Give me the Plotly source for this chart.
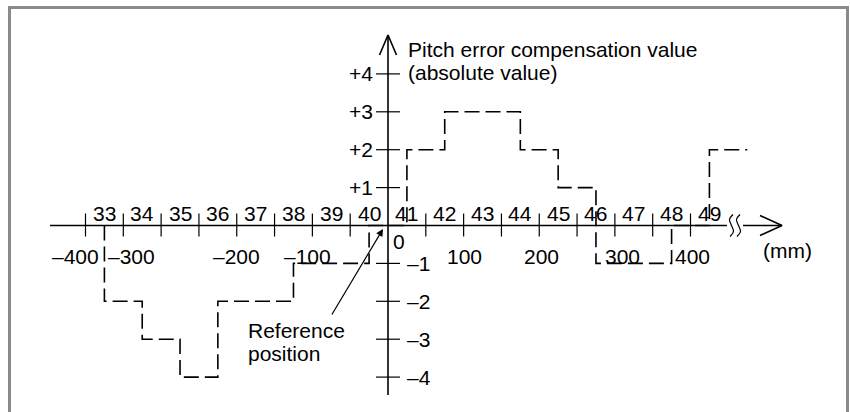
import plotly.graph_objects as go

# ---------------- data ----------------
point_numbers = list(range(33, 50))
point_pos_mm = [-375, -325, -275, -225, -175, -125, -75, -25, 25, 75, 125, 175, 225, 275, 325, 375, 425]
comp_values = [-2, -3, -4, -2, -2, -1, -1, 0, 2, 3, 3, 2, 1, -1, -1, 0, 2]
end_mm = 475

x_tick_mm = [-400, -350, -300, -250, -200, -150, -100, -50, 50, 100, 150, 200, 250, 300, 350, 400]
mm_label_vals = [-400, -300, -200, -100, 100, 200, 300, 400]
mm_label_text = ["\u2013400", "\u2013300", "\u2013200", "\u2013100", "100", "200", "300", "400"]
y_tick_vals = [-4, -3, -2, -1, 1, 2, 3, 4]
y_tick_text = ["\u20134", "\u20133", "\u20132", "\u20131", "+1", "+2", "+3", "+4"]

# ---------------- geometry (pixel scale) ----------------
W, H = 850, 412
X0PX, PXMM = 388.0, 0.75625      # px of 0 mm, px per mm
Y0PX, PXV = 225.5, 37.9           # px of value 0, px per unit
XR = [(0 - X0PX) / PXMM, (W - X0PX) / PXMM]
YR = [(Y0PX - H) / PXV, (Y0PX - 0) / PXV]


def dx(px):
    return px / PXMM


def dy(px):
    return px / PXV


FONT = dict(family="Liberation Sans, Arial, sans-serif", size=21, color="black")
fig = go.Figure()

# staircase (compensation values)
fig.add_trace(go.Scatter(
    x=[point_pos_mm[0]] + point_pos_mm + [end_mm],
    y=[0] + comp_values + [comp_values[-1]],
    mode="lines", line=dict(color="black", width=1.6, dash="15px,6px", shape="hv"),
    hoverinfo="skip"))

# horizontal axis with break and arrow
ax_l, ax_brk1, ax_brk2, ax_r = dx(50 - X0PX), dx(727 - X0PX), dx(743 - X0PX), dx(782 - X0PX)
fig.add_trace(go.Scatter(
    x=[ax_l, ax_brk1, None, ax_brk2, ax_r, None,
       ax_r - dx(22), ax_r, ax_r - dx(22)],
    y=[0, 0, None, 0, 0, None, dy(10), 0, -dy(10)],
    mode="lines", line=dict(color="black", width=1.6), hoverinfo="skip"))

# break squiggles
for off in (-3.5, 3.5):
    bx = (ax_brk1 + ax_brk2) / 2 + dx(off)
    fig.add_trace(go.Scatter(
        x=[bx + dx(1.5), bx - dx(2), bx, bx + dx(2), bx - dx(1.5)],
        y=[dy(11), dy(6), 0, -dy(6), -dy(11)],
        mode="lines", line=dict(color="black", width=1.2, shape="spline"), hoverinfo="skip"))

# vertical axis with arrow
v_bot, v_top = -dy(395 - Y0PX), dy(Y0PX - 35)
fig.add_trace(go.Scatter(
    x=[0, 0, None, -dx(8.5), 0, dx(8.5)],
    y=[v_bot, v_top, None, v_top - dy(20), v_top, v_top - dy(20)],
    mode="lines", line=dict(color="black", width=1.6), hoverinfo="skip"))

# x ticks (crossing the axis)
tx, ty = [], []
for t in x_tick_mm:
    tx += [t, t, None]
    ty += [dy(12), -dy(11), None]
fig.add_trace(go.Scatter(x=tx, y=ty, mode="lines",
                         line=dict(color="black", width=1.2), hoverinfo="skip"))

# y ticks
yx, yy = [], []
for t in y_tick_vals:
    yx += [-dx(12), dx(12), None]
    yy += [t, t, None]
fig.add_trace(go.Scatter(x=yx, y=yy, mode="lines",
                         line=dict(color="black", width=1.2), hoverinfo="skip"))

ann = []
# compensation point numbers
for n, p in zip(point_numbers, point_pos_mm):
    ann.append(dict(x=p, y=0, text=str(n), showarrow=False, yshift=12,
                    xanchor="center", yanchor="middle", font=FONT))
# mm labels
mm_shift = [-10, -30, 0, -5, 1, 2, 8, 2]
for v, t, s in zip(mm_label_vals, mm_label_text, mm_shift):
    ann.append(dict(x=v, y=0, text=t, showarrow=False, xshift=s, yshift=-31,
                    xanchor="center", yanchor="middle", font=FONT))
ann.append(dict(x=0, y=0, text="0", showarrow=False, xshift=3, yshift=-16,
                xanchor="left", yanchor="middle", font=FONT))
# y tick labels
for v, t in zip(y_tick_vals, y_tick_text):
    if v > 0:
        ann.append(dict(x=0, y=v, text=t, showarrow=False, xshift=-13,
                        xanchor="right", yanchor="middle", font=FONT))
    else:
        ann.append(dict(x=0, y=v, text=t, showarrow=False, xshift=17,
                        xanchor="left", yanchor="middle", font=FONT))
# axis titles
ann.append(dict(x=0, y=dy(Y0PX - 49), text="Pitch error compensation value", showarrow=False,
                xshift=18, xanchor="left", yanchor="middle", font=FONT))
ann.append(dict(x=0, y=dy(Y0PX - 72), text="(absolute value)", showarrow=False,
                xshift=18, xanchor="left", yanchor="middle", font=FONT))
ann.append(dict(x=dx(787 - X0PX), y=-dy(250 - Y0PX), text="(mm)", showarrow=False,
                xanchor="center", yanchor="middle", font=FONT))
# reference position
ann.append(dict(x=dx(246 - X0PX), y=-dy(330 - Y0PX), text="Reference", showarrow=False,
                xanchor="left", yanchor="middle", font=FONT))
ann.append(dict(x=dx(246 - X0PX), y=-dy(353 - Y0PX), text="position", showarrow=False,
                xanchor="left", yanchor="middle", font=FONT))
ann.append(dict(x=dx(383 - X0PX), y=-dy(229 - Y0PX), ax=dx(331 - X0PX), ay=-dy(316 - Y0PX),
                axref="x", ayref="y", text="", showarrow=True, arrowhead=2,
                arrowsize=1.2, arrowwidth=1.2, arrowcolor="black"))

fig.update_layout(
    width=W, height=H, autosize=False,
    margin=dict(l=0, r=0, t=0, b=0, pad=0),
    paper_bgcolor="white", plot_bgcolor="white",
    showlegend=False, annotations=ann,
    xaxis=dict(visible=False, range=XR, fixedrange=True),
    yaxis=dict(visible=False, range=YR, fixedrange=True),
    shapes=[dict(type="rect", xref="paper", yref="paper",
                 x0=9.5 / W, x1=847.5 / W, y0=-0.1, y1=1 - 7.5 / H,
                 line=dict(color="#8a8a8a", width=3))],
)

fig.write_html("out.html", config={"displayModeBar": False},
               post_script="document.body.style.margin='0px';document.body.style.overflow='hidden';")
